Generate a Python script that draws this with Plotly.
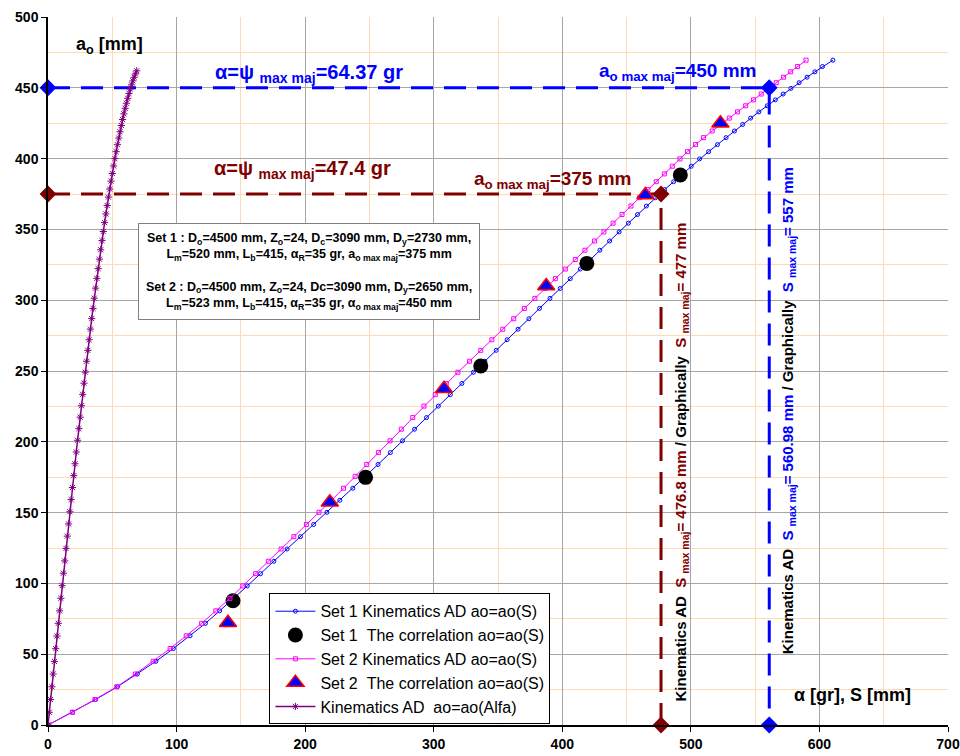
import plotly.graph_objects as go

# ---------------- data ----------------
# Set 1 / Set 2 kinematics curves: ao [mm] vs S [mm]
ao_s = [0, 9, 18, 27, 36, 45, 54, 63, 71.8, 80.6, 89.4,
        98.2, 106.9, 115.6, 124.3, 133.0, 141.6, 150.2, 158.7, 167.2, 175.6,
        184.0, 192.4, 200.7, 208.9, 217.1, 225.2, 233.3, 241.2, 249.1, 256.9,
        264.6, 272.1, 279.5, 286.9, 294.2, 301.3, 308.3, 315.2, 322.0, 328.7,
        335.3, 341.8, 348.2, 354.4, 360.5, 366.5, 372.4, 378.1, 383.7, 389.2,
        394.6, 399.8, 404.9, 409.9, 414.8, 419.5, 424.1, 428.6, 433.0, 437.3,
        441.5, 445.6, 449.6, 453.6, 457.5, 461.3, 465.0, 469.5]
s_set1 = [0, 19.0, 37.0, 54.0, 69.5, 84.0, 97.5, 110.5, 122.5, 133.5, 144.5,
          155.0, 165.3, 175.7, 186.0, 196.4, 206.6, 216.9, 227.0, 237.1, 247.1,
          256.7, 266.3, 275.7, 285.1, 294.4, 303.6, 312.9, 321.9, 330.9, 339.8,
          348.6, 357.1, 365.6, 374.0, 382.3, 390.4, 398.4, 406.2, 414.0, 421.6,
          429.2, 436.8, 444.2, 451.4, 458.5, 465.4, 472.5, 479.6, 486.6, 493.5,
          500.3, 506.8, 513.8, 520.7, 527.4, 533.9, 540.3, 546.5, 552.9, 559.4,
          565.7, 571.8, 577.8, 584.2, 590.4, 596.5, 602.4, 610.5]
s_set2 = [0, 19.0, 36.5, 53.5, 68.0, 81.8, 95.0, 107.5, 119.5, 130.5, 141.5,
          151.5, 161.5, 171.4, 181.3, 191.2, 201.0, 210.8, 220.5, 229.8, 238.9,
          247.9, 257.0, 266.0, 274.8, 283.7, 292.4, 301.2, 309.8, 318.8, 327.8,
          336.6, 345.2, 353.7, 362.2, 370.5, 378.7, 386.7, 394.6, 402.4, 410.1,
          417.6, 425.1, 432.4, 439.5, 446.5, 453.4, 460.1, 466.7, 473.1, 479.4,
          485.6, 491.5, 497.4, 503.6, 509.8, 516.6, 523.3, 529.9, 536.3, 542.6,
          548.7, 554.7, 560.5, 566.4, 572.1, 577.6, 583.0, 589.6]

# correlation points
corr1_s = [143.9, 247.0, 336.6, 419.1, 491.8]
corr1_ao = [87.8, 174.9, 253.5, 326.0, 388.4]
corr2_s = [140.0, 219.2, 308.0, 387.5, 464.6, 523.0]
corr2_ao = [72.2, 157.3, 237.5, 310.0, 374.3, 425.0]

# ao = ao(Alfa)
alfa_gr = [0, 1, 2, 3, 4, 5, 6, 7, 8, 9, 10, 11, 12, 13, 14, 15, 16, 17, 18, 19,
           20, 21, 22, 23, 24, 25, 26, 27, 28, 29, 30, 31, 32, 33, 34, 35, 36, 37,
           38, 39, 40, 41, 42, 43, 44, 45, 46, 47, 48, 49, 50, 51, 52, 53, 54, 55,
           56, 57, 58, 59, 60, 61, 62, 63, 64, 65, 66, 67, 68, 69]
ao_alfa = [0, 9.0, 18.0, 27.0, 36.0, 44.9, 53.9, 62.8, 71.8, 80.6, 89.5, 98.4,
           107.2, 115.9, 124.7, 133.4, 142.0, 150.6, 159.2, 167.7, 176.1, 184.5,
           192.8, 201.1, 209.3, 217.4, 225.5, 233.5, 241.4, 249.2, 256.9, 264.6,
           272.1, 279.6, 287.0, 294.2, 301.4, 308.5, 315.4, 322.3, 329.0, 335.6,
           342.1, 348.5, 354.8, 360.9, 366.9, 372.8, 378.5, 384.1, 389.5, 394.8,
           400.0, 404.9, 409.8, 414.5, 419.0, 423.4, 427.6, 431.6, 435.5, 439.1,
           442.6, 446.0, 449.1, 452.1, 454.9, 457.4, 459.8, 462.0]

# maxima
ao_max_1 = 375
s_max_1 = 476.8
ao_max_2 = 450
s_max_2 = 560.98

BLUE = "#0000FF"
MAG = "#FF00FF"
BROWN = "#800000"
PURPLE = "#800080"
FONT = "Arial, Liberation Sans, sans-serif"

fig = go.Figure()

# dashed guide lines
fig.add_trace(go.Scatter(x=[0, s_max_2, s_max_2], y=[ao_max_2, ao_max_2, 0], mode="lines",
                         line=dict(color=BLUE, width=3, dash="22px,11px"),
                         showlegend=False, hoverinfo="skip"))
fig.add_trace(go.Scatter(x=[0, s_max_1, s_max_1], y=[ao_max_1, ao_max_1, 0], mode="lines",
                         line=dict(color=BROWN, width=3, dash="22px,11px"),
                         showlegend=False, hoverinfo="skip"))

# curves
fig.add_trace(go.Scatter(x=s_set1, y=ao_s, mode="lines+markers", legendgroup="g1",
                         name="Set 1 Kinematics AD ao=ao(S)",
                         line=dict(color=BLUE, width=1),
                         marker=dict(symbol="circle-open", size=4, color=BLUE,
                                     line=dict(color=BLUE, width=1))))
fig.add_trace(go.Scatter(x=corr1_s, y=corr1_ao, mode="markers", legendgroup="g2",
                         name="Set 1\u00a0\u00a0The correlation ao=ao(S)",
                         marker=dict(symbol="circle", size=15, color="black")))
fig.add_trace(go.Scatter(x=s_set2, y=ao_s, mode="lines+markers", legendgroup="g3",
                         name="Set 2 Kinematics AD ao=ao(S)",
                         line=dict(color=MAG, width=1),
                         marker=dict(symbol="square-open", size=4, color=MAG,
                                     line=dict(color=MAG, width=1))))
fig.add_trace(go.Scatter(x=corr2_s, y=corr2_ao, mode="markers", legendgroup="g4",
                         name="Set 2\u00a0\u00a0The correlation ao=ao(S)",
                         marker=dict(symbol="triangle-up", size=15, color=BLUE,
                                     line=dict(color="red", width=1.5))))
fig.add_trace(go.Scatter(x=alfa_gr, y=ao_alfa, mode="lines+markers", legendgroup="g5",
                         name="Kinematics AD\u00a0\u00a0ao=ao(Alfa)",
                         line=dict(color=PURPLE, width=1.5),
                         marker=dict(symbol="asterisk-open", size=6, color=PURPLE,
                                     line=dict(color=PURPLE, width=1))))

# diamonds
fig.add_trace(go.Scatter(x=[0, s_max_2, s_max_2], y=[ao_max_2, ao_max_2, 0], mode="markers",
                         marker=dict(symbol="diamond", size=13, color=BLUE),
                         showlegend=False, cliponaxis=False, hoverinfo="skip"))
fig.add_trace(go.Scatter(x=[0, s_max_1, s_max_1], y=[ao_max_1, ao_max_1, 0], mode="markers",
                         marker=dict(symbol="diamond", size=13, color=BROWN),
                         showlegend=False, cliponaxis=False, hoverinfo="skip"))

ann = []
ann.append(dict(x=48, y=480, text="<b>a<sub>o</sub> [mm]</b>", showarrow=False,
                font=dict(size=18, color="black", family=FONT)))
ann.append(dict(x=203, y=460, text="<b>α=ψ <sub>max maj</sub>=64.37 gr</b>", showarrow=False,
                font=dict(size=20, color=BLUE, family=FONT)))
ann.append(dict(x=198, y=392, text="<b>α=ψ <sub>max maj</sub>=47.4 gr</b>", showarrow=False,
                font=dict(size=20, color=BROWN, family=FONT)))
ann.append(dict(x=490, y=461, text="<b>a<sub>o max maj</sub>=450 mm</b>", showarrow=False,
                font=dict(size=19, color=BLUE, family=FONT)))
ann.append(dict(x=393, y=385, text="<b>a<sub>o max maj</sub>=375 mm</b>", showarrow=False,
                font=dict(size=19, color=BROWN, family=FONT)))
ann.append(dict(x=626, y=21, text="<b>α [gr], S [mm]</b>", showarrow=False,
                font=dict(size=18, color="black", family=FONT)))

brown_txt = ("<b>Kinematics AD  <span style='color:%s'>S <sub>max maj</sub>= 476.8 mm</span>"
             " / Graphically  <span style='color:%s'>S <sub>max maj</sub>= 477 mm</span></b>") % (BROWN, BROWN)
blue_txt = ("<b>Kinematics AD  <span style='color:%s'>S <sub>max maj</sub>= 560.98 mm</span>"
            " / Graphically  <span style='color:%s'>S <sub>max maj</sub>= 557 mm</span></b>") % (BLUE, BLUE)
ann.append(dict(x=493, y=186, text=brown_txt, textangle=-90, showarrow=False,
                font=dict(size=15, color="black", family=FONT)))
ann.append(dict(x=576, y=222, text=blue_txt, textangle=-90, showarrow=False,
                font=dict(size=15, color="black", family=FONT)))

box_txt = ("<b>Set 1 : D<sub>o</sub>=4500 mm, Z<sub>o</sub>=24, D<sub>c</sub>=3090 mm, D<sub>y</sub>=2730 mm,<br>"
           "L<sub>m</sub>=520 mm, L<sub>b</sub>=415, α<sub>R</sub>=35 gr, a<sub>o max maj</sub>=375 mm<br> <br>"
           "Set 2 : D<sub>o</sub>=4500 mm, Z<sub>o</sub>=24, Dc=3090 mm, D<sub>y</sub>=2650 mm,<br>"
           "L<sub>m</sub>=523 mm, L<sub>b</sub>=415, α<sub>R</sub>=35 gr, α<sub>o max maj</sub>=450 mm</b>")
ann.append(dict(x=203, y=320, text=box_txt, showarrow=False, align="center",
                bgcolor="white", bordercolor="#808080", borderwidth=1, borderpad=7,
                font=dict(size=12.5, color="black", family=FONT)))

axis_common = dict(showline=True, linecolor="black", linewidth=1.5, ticks="outside",
                   ticklen=5, tickcolor="black", zeroline=False, automargin=False,
                   gridcolor="#A6A6A6", gridwidth=1,
                   tickfont=dict(family=FONT, size=14, color="black", weight="bold"))

fig.update_layout(
    width=960, height=756,
    margin=dict(l=48, r=12, t=17, b=31),
    plot_bgcolor="white", paper_bgcolor="white",
    font=dict(family=FONT, color="black"),
    annotations=ann,
    legend=dict(x=0.246, y=0.186, xanchor="left", yanchor="top",
                bgcolor="white", bordercolor="black", borderwidth=1,
                font=dict(family=FONT, size=16, color="black"),
                tracegroupgap=0, itemsizing="trace", itemwidth=40),
    xaxis=dict(range=[0, 700], dtick=100, tick0=0,
               minor=dict(dtick=50, showgrid=True, gridcolor="#FFDAB3", gridwidth=1), **axis_common),
    yaxis=dict(range=[0, 500], dtick=50, tick0=0,
               minor=dict(dtick=25, showgrid=True, gridcolor="#FFDAB3", gridwidth=1), **axis_common),
)

fig.write_html("out.html", config={"displayModeBar": False},
               post_script="document.body.style.margin='0';document.body.style.overflow='hidden';")
